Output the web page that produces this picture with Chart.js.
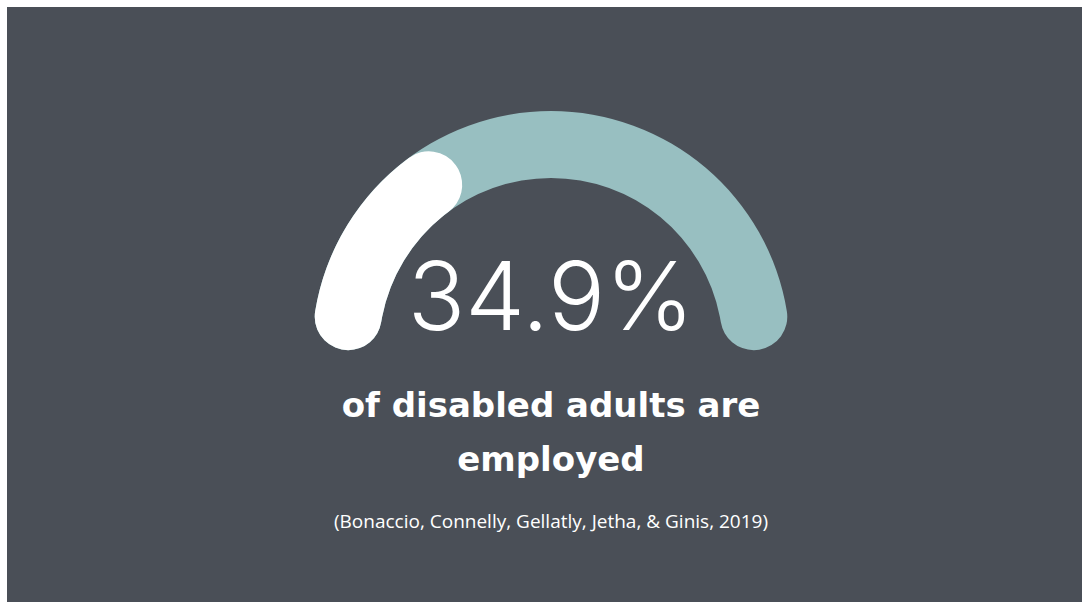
<!DOCTYPE html>
<html>
<head>
<meta charset="utf-8">
<script src="https://cdn.jsdelivr.net/npm/chart.js@4"></script>
<style>
  html, body { margin: 0; padding: 0; background: #ffffff; }
  #panel {
    position: absolute; left: 7px; top: 7px; width: 1075px; height: 595px;
    background: #4a4f57; overflow: hidden;
  }
  .gauge { position: absolute; left: 305px; top: 104px; width: 478px; height: 243px; }
  .txt { position: absolute; left: 0; width: 1088px; text-align: center; color: #ffffff; white-space: nowrap; }
  #big { top: 229px; font-family: Inter, sans-serif; font-weight: 300; font-size: 95px; line-height: 120px; }
  #caption { top: 371px; font-family: "DejaVu Sans", sans-serif; font-weight: 700; font-size: 34px; line-height: 54px; }
  #source { top: 501px; font-family: "Open Sans", sans-serif; font-weight: 400; font-size: 19px; line-height: 26px; }
</style>
</head>
<body>
<div id="panel">
  <div class="gauge"><canvas id="track"></canvas></div>
  <div class="gauge"><canvas id="value"></canvas></div>
  <div class="txt" id="big"></div>
  <div class="txt" id="caption">of disabled adults are<br>employed</div>
  <div class="txt" id="source">(Bonaccio, Connelly, Gellatly, Jetha, &amp; Ginis, 2019)</div>
</div>
<script>
// share of disabled adults who are employed
const labels = ['Employed', 'Not employed'];
const values = [34.9, 65.1];
const trackLabels = ['All'];
const trackValues = [100];

const colors = ['#ffffff', 'rgba(0,0,0,0)'];
const trackColor = '#98bfc1';

document.getElementById('big').textContent = values[0].toFixed(1) + '%';

function gauge(canvasId, lbls, data, bg) {
    const ctx = document.getElementById(canvasId).getContext('2d');
    return new Chart(ctx, {
        type: 'doughnut',
        data: {
            labels: lbls,
            datasets: [{
                data: data,
                backgroundColor: bg,
                borderWidth: 0,
                borderRadius: 34
            }]
        },
        options: {
            responsive: false,
            maintainAspectRatio: false,
            animation: false,
            rotation: -90,
            circumference: 180,
            cutout: '72%',
            layout: { padding: { bottom: 4 } },
            events: [],
            plugins: {
                legend: { display: false },
                tooltip: { enabled: false }
            }
        }
    });
}

for (const id of ['track', 'value']) {
    const c = document.getElementById(id);
    c.width = 478;
    c.height = 243;
}

gauge('track', trackLabels, trackValues, [trackColor]);
gauge('value', labels, values, colors);
</script>
</body>
</html>
